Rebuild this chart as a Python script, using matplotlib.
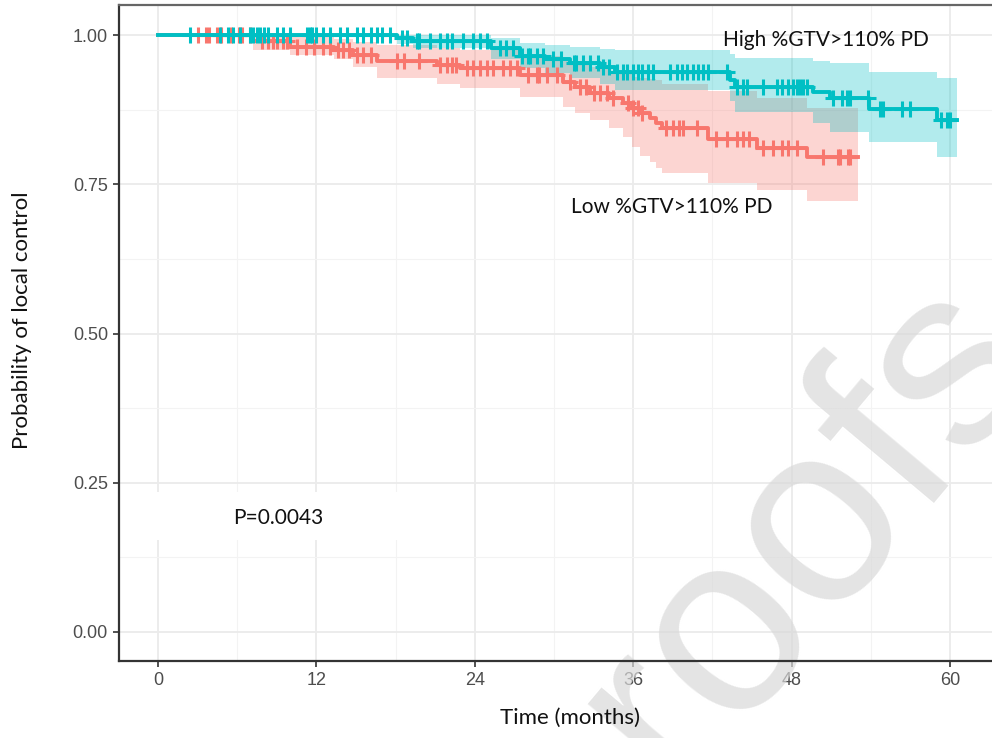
import numpy as np
import matplotlib.pyplot as plt
from matplotlib.patches import Rectangle
from matplotlib import font_manager

# High %GTV>110% PD group (Kaplan-Meier steps)
high_time = [0, 18.1, 19.3, 25.2, 27.4, 29.3, 31.2, 33.5, 34.6, 43.3, 43.7, 49.6, 50.9, 53.9, 59.0]
high_surv = [1.0, 0.995, 0.99, 0.978, 0.965, 0.96, 0.953, 0.946, 0.938, 0.925, 0.913, 0.905, 0.894, 0.876, 0.858]
high_upper = [1.0, 1.0, 1.0, 0.995, 0.987, 0.984, 0.98, 0.977, 0.975, 0.969, 0.962, 0.957, 0.953, 0.938, 0.928]
high_lower = [1.0, 0.985, 0.978, 0.96, 0.944, 0.937, 0.928, 0.918, 0.908, 0.89, 0.871, 0.852, 0.838, 0.82, 0.796]
high_end = 60.5
high_censor = [2.4, 4.7, 5.3, 5.7, 6.2, 7.0, 7.2, 7.5, 7.7, 8.0, 8.3, 9.0, 9.5, 10.0, 11.3, 11.5,
               11.7, 12.0, 12.5, 13.0, 13.8, 14.3, 15.1, 15.5, 16.1, 16.6, 17.0, 17.6, 18.5, 18.9,
               19.6, 19.8, 20.6, 21.4, 21.9, 22.3, 23.1, 23.9, 24.4, 24.9, 25.9, 26.4, 26.9, 27.6,
               28.0, 28.2, 28.7, 29.2, 29.9, 30.5, 31.5, 31.7, 32.2, 32.7, 33.3, 33.7, 34.2, 34.8,
               35.2, 35.5, 36.0, 36.4, 36.7, 37.1, 37.5, 38.8, 39.3, 39.7, 40.1, 40.5, 40.9, 41.3,
               41.7, 43.1, 43.9, 44.3, 44.6, 45.8, 46.9, 47.3, 47.7, 48.1, 48.4, 48.6, 48.9, 49.2,
               51.1, 51.8, 52.2, 52.4, 53.8, 54.7, 54.9, 56.4, 57.0, 59.3, 59.8, 60.0]

# Low %GTV>110% PD group
low_time = [0, 7.2, 10.0, 13.3, 14.8, 16.6, 21.1, 22.9, 27.4, 30.7, 31.6, 32.7, 34.2, 35.2,
            35.9, 36.5, 37.3, 37.7, 38.2, 41.7, 45.4, 49.2]
low_surv = [1.0, 0.99, 0.98, 0.975, 0.967, 0.957, 0.95, 0.945, 0.933, 0.921, 0.913, 0.903, 0.894,
            0.886, 0.878, 0.869, 0.861, 0.852, 0.844, 0.826, 0.81, 0.796]
low_upper = [1.0, 1.0, 0.997, 0.993, 0.988, 0.983, 0.978, 0.975, 0.965, 0.957, 0.952, 0.946, 0.94,
             0.934, 0.93, 0.928, 0.926, 0.924, 0.918, 0.906, 0.894, 0.878]
low_lower = [1.0, 0.975, 0.967, 0.96, 0.947, 0.928, 0.918, 0.911, 0.897, 0.88, 0.87, 0.858, 0.845,
             0.83, 0.812, 0.798, 0.787, 0.777, 0.769, 0.752, 0.74, 0.722]
low_end = 53.0
low_censor = [3.0, 3.6, 3.9, 4.5, 4.8, 5.5, 6.1, 6.4, 7.0, 7.9, 8.3, 8.7, 9.0, 9.5, 9.8, 10.5,
              11.2, 11.8, 12.5, 13.0, 13.6, 14.0, 14.5, 15.1, 15.5, 16.1, 18.1, 18.6, 19.8, 21.4,
              21.9, 22.3, 22.6, 23.4, 23.9, 24.4, 24.9, 25.4, 26.1, 26.7, 27.2, 28.0, 28.7, 28.9,
              29.5, 30.2, 31.2, 32.0, 32.4, 33.0, 33.5, 34.0, 34.5, 35.6, 36.0, 36.4, 36.7, 38.5,
              39.0, 39.5, 39.8, 40.8, 42.3, 43.1, 43.9, 44.3, 44.8, 45.8, 46.6, 47.3, 47.7, 48.4,
              50.4, 51.5, 51.7, 52.3, 52.4]

x_ticks = [0, 12, 24, 36, 48, 60]
y_ticks = [0.0, 0.25, 0.5, 0.75, 1.0]
y_tick_labels = ["0.00", "0.25", "0.50", "0.75", "1.00"]

RED = "#F8766D"
TEAL = "#00BFC4"
TEXT_FONT = ["Lato", "DejaVu Sans"]

# narrow font for tick labels if it exists
installed = {f.name for f in font_manager.fontManager.ttflist}
TICK_FONT = "Liberation Sans Narrow" if "Liberation Sans Narrow" in installed else "Liberation Sans"


def draw_group(ax, times, surv, upper, lower, end, censor, color):
    t = np.append(times, end)
    s = np.append(surv, surv[-1])
    up = np.append(upper, upper[-1])
    lo = np.append(lower, lower[-1])
    ax.fill_between(t, lo, up, step="post", color=color, alpha=0.3, lw=0, zorder=1)
    ax.step(t, s, where="post", color=color, lw=2.8, zorder=3)
    idx = np.searchsorted(times, censor, side="right") - 1
    ax.plot(censor, np.array(surv)[idx], ls="none", marker="+", ms=11, mew=2.2,
            color=color, zorder=3)


fig = plt.figure(figsize=(9.92, 7.38), dpi=100)
ax = fig.add_axes([119 / 992, 1 - 661 / 738, (997 - 119) / 992, (661 - 5) / 738])

draw_group(ax, low_time, low_surv, low_upper, low_lower, low_end, low_censor, RED)
draw_group(ax, high_time, high_surv, high_upper, high_lower, high_end, high_censor, TEAL)

ax.set_xlim(-2.955, 63.56)
ax.set_ylim(-0.0486, 1.0503)
ax.set_xticks(x_ticks)
ax.set_xticks([6, 18, 30, 42, 54], minor=True)
ax.set_yticks(y_ticks)
ax.set_yticklabels(y_tick_labels)
ax.set_yticks([0.125, 0.375, 0.625, 0.875], minor=True)
ax.grid(which="major", color="#EBEBEB", lw=1.3, zorder=0)
ax.grid(which="minor", color="#F3F3F3", lw=0.8, zorder=0)
ax.set_axisbelow(True)
ax.tick_params(which="major", length=4, width=1.2, color="#333333", labelcolor="#4D4D4D",
               labelsize=13, pad=4)
ax.tick_params(which="minor", length=0)
for lab in ax.get_xticklabels() + ax.get_yticklabels():
    lab.set_family(TICK_FONT)
for side in ["left", "bottom", "top", "right"]:
    ax.spines[side].set_color("#333333")
    ax.spines[side].set_linewidth(1.6)
    ax.spines[side].set_zorder(5)
ax.spines["top"].set_color("#666666")

# white box behind the p-value
box = Rectangle((45 / 992, 1 - 540 / 738), 355 / 992, 48 / 738, transform=fig.transFigure,
                facecolor="white", edgecolor="none", zorder=0.8, clip_on=False)
ax.add_patch(box)

ax.text(50.6, 0.992, "High %GTV>110% PD", ha="center", va="center", fontsize=15,
        family=TEXT_FONT, color="#111111", zorder=6)
ax.text(38.9, 0.712, "Low %GTV>110% PD", ha="center", va="center", fontsize=15,
        family=TEXT_FONT, color="#111111", zorder=6)
ax.text(9.1, 0.191, "P=0.0043", ha="center", va="center", fontsize=15,
        family=TEXT_FONT, color="#111111", zorder=6)

fig.text(570 / 992, 1 - 718 / 738, "Time (months)", ha="center", va="center", fontsize=16,
         family=TEXT_FONT, color="#111111")
fig.text(22 / 992, 1 - 320 / 738, "Probability of local control", ha="center", va="center",
         rotation=90, fontsize=16, family=TEXT_FONT, color="#111111")

# watermark (partly off the page, as in the source)
ax.text(762 / 992, 1 - 585 / 738, "proofs", transform=fig.transFigure, ha="center",
        va="center", rotation=50, rotation_mode="anchor", fontsize=185,
        family=["Liberation Sans", "DejaVu Sans"], color="#D9D9D9", alpha=0.7,
        zorder=4, clip_on=False)

fig.savefig("out.png", dpi=100)
